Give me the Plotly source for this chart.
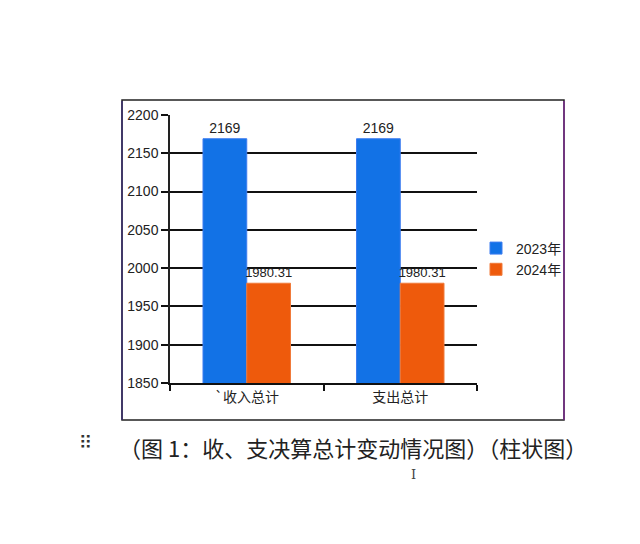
import plotly.graph_objects as go

categories = ["`收入总计", "支出总计"]
series_names = ["2023年", "2024年"]
values_2023 = [2169, 2169]
values_2024 = [1980.31, 1980.31]
labels_2023 = ["2169", "2169"]
labels_2024 = ["1980.31", "1980.31"]

blue = "#1272E6"
orange = "#EE5A0C"
font_fam = "Liberation Sans, Arial, Noto Sans CJK SC, sans-serif"

fig = go.Figure()
fig.add_trace(go.Bar(x=categories, y=values_2023, name=series_names[0],
                     marker=dict(color=blue, line=dict(color="#3d7cf0", width=1)),
                     text=labels_2023, textposition="outside", cliponaxis=False,
                     constraintext="none",
                     textfont=dict(size=14, color="#222")))
fig.add_trace(go.Bar(x=categories, y=values_2024, name=series_names[1],
                     marker=dict(color=orange, line=dict(color="#f07a3a", width=1)),
                     text=labels_2024, textposition="outside", cliponaxis=False,
                     constraintext="none",
                     textfont=dict(size=13, color="#222")))

W, H = 640, 544
OFF = 8  # page body margin
L, R, T, B = 170, 477, 115, 383  # target pixel positions in the screenshot
fig.update_layout(
    width=W, height=H,
    margin=dict(l=L - OFF, r=W - (R - OFF), t=T - OFF, b=H - (B - OFF), pad=0),
    paper_bgcolor="white", plot_bgcolor="white",
    barmode="group", bargap=0.43, bargroupgap=0,
    font=dict(family=font_fam, size=14, color="#222"),
    showlegend=True,
    legend=dict(x=(476 - L) / (R - L), y=(B - 259) / (B - T), xanchor="left", yanchor="middle",
                font=dict(size=14, family=font_fam), itemwidth=30, tracegroupgap=4,
                bgcolor="rgba(0,0,0,0)"),
)
fig.update_yaxes(range=[1850, 2200], dtick=50, showgrid=True, gridcolor="#111", gridwidth=1.5,
                 showline=True, linecolor="#222", linewidth=1.5, ticks="outside", ticklen=7,
                 tickcolor="#111", tickwidth=1.5, zeroline=False,
                 tickfont=dict(size=14, family=font_fam, color="#222"))
fig.update_xaxes(showline=True, linecolor="#111", linewidth=1.5, ticks="outside", ticklen=6,
                 tickson="boundaries", tickcolor="#111", tickwidth=1.5,
                 tickfont=dict(size=14, family="Noto Sans CJK SC", color="#222"))

pw, ph = R - L, B - T
def px(x):
    return (x - L) / pw
def py(y):
    return (B - y) / ph

fig.add_shape(type="rect", xref="paper", yref="paper",
              x0=px(122), x1=px(564), y0=py(420), y1=py(100),
              line=dict(color="#222", width=1.5), fillcolor="rgba(0,0,0,0)", layer="below")
fig.add_shape(type="line", xref="paper", yref="paper",
              x0=px(564), x1=px(564), y0=py(420), y1=py(101),
              line=dict(color="#7a2d8c", width=1.5))
fig.add_shape(type="line", xref="paper", yref="paper",
              x0=px(122), x1=px(122), y0=py(420), y1=py(101),
              line=dict(color="#3a2f6e", width=1.5))

fig.add_annotation(xref="paper", yref="paper", x=px(353), y=py(447),
                   text="（图 1：收、支决算总计变动情况图）（柱状图）", showarrow=False,
                   font=dict(size=22, family="Noto Sans CJK SC", color="#222"),
                   xanchor="center", yanchor="middle")
fig.add_annotation(xref="paper", yref="paper", x=px(85), y=py(442),
                   text="⠿", showarrow=False,
                   font=dict(size=18, family="DejaVu Sans", color="#333"),
                   xanchor="center", yanchor="middle")
fig.add_annotation(xref="paper", yref="paper", x=px(413), y=py(474),
                   text="I", showarrow=False,
                   font=dict(size=13, family="DejaVu Serif", color="#444"),
                   xanchor="center", yanchor="middle")

fig.write_html("out.html")
